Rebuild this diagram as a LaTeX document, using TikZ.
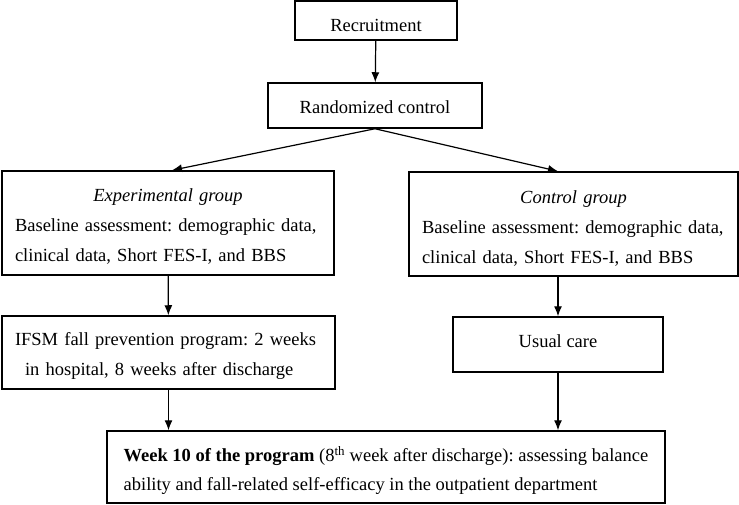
\documentclass[tikz,border=0pt]{standalone}
\usepackage{fontspec}
\setmainfont{Liberation Serif}
\usetikzlibrary{arrows.meta}
\frenchspacing
\begin{document}
\begin{tikzpicture}[x=1pt,y=-1pt,
  box/.style={draw, line width=1.5pt, inner ysep=0pt, inner xsep=0pt,
    font=\fontsize{18.5}{30}\selectfont\frenchspacing},
  arr/.style={line width=1.2pt, -{Latex[length=10pt,width=8pt]}}]
\useasboundingbox (0,0) rectangle (739,505);

\node[box, minimum width=162pt, minimum height=39pt, text height=23pt, text depth=0pt]
  (rec) at (376,20.5) {Recruitment};
\node[box, minimum width=214pt, minimum height=45pt, text height=18pt, text depth=1pt]
  (rand) at (375,105.5) {Randomized control};
\node[box, minimum width=332pt, minimum height=104pt, text width=306pt, align=left,
  text height=20pt, text depth=62pt]
  (exp) at (168,223) {\makebox[\linewidth]{\textit{Experimental group}}\\
  Baseline assessment: demographic data,\\
  clinical data, Short FES-I, and BBS};
\node[box, minimum width=329pt, minimum height=104pt, text width=303pt, align=left,
  text height=20pt, text depth=61pt]
  (ctl) at (573.5,224) {\makebox[\linewidth]{\textit{Control group}}\\
  Baseline assessment: demographic data,\\
  clinical data, Short FES-I, and BBS};
\node[box, minimum width=333pt, minimum height=73pt, text width=307pt, align=left,
  text height=14pt, text depth=29pt]
  (ifsm) at (168.5,352.5) {IFSM fall prevention program: 2 weeks\\
  \hspace*{10pt}in hospital, 8 weeks after discharge};
\node[box, minimum width=210pt, minimum height=55pt, text height=12pt, text depth=7pt]
  (usual) at (558,344.5) {Usual care};
\node[box, minimum width=558pt, minimum height=72pt, align=left,
  font=\fontsize{18.5}{28.5}\selectfont\frenchspacing, text height=47pt, text depth=1pt]
  (week) at (386,467) {\textbf{Week 10 of the program} (8\textsuperscript{th} week after discharge): assessing balance\\
  ability and fall-related self-efficacy in the outpatient department};

\draw[arr] (rec) -- (rand);
\draw[arr] (rand.south) -- ([xshift=4pt]exp.north);
\draw[arr] (rand.south) -- (ctl.north -| usual.north);
\draw[arr] (exp) -- (ifsm);
\draw[arr] (ctl.south -| usual.north) -- (usual);
\draw[arr] (ifsm.south) -- (ifsm.south |- week.north);
\draw[arr] (usual.south) -- (usual.south |- week.north);
\end{tikzpicture}
\end{document}
